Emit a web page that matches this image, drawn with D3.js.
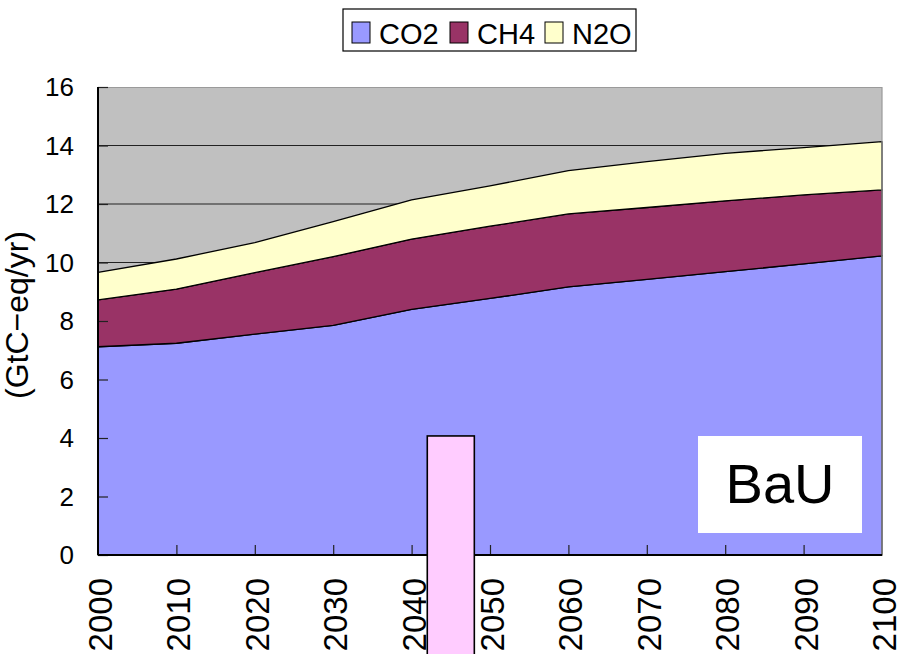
<html>
<head>
<meta charset="UTF-8">
<title>BaU GHG emissions</title>
<script src="https://d3js.org/d3.v7.min.js"></script>
<style>
 body { margin: 0; background: white; }
 text { font-family: "Liberation Sans", Arial, sans-serif; fill: black; }
</style>
</head>
<body>
<svg width="902" height="654"></svg>
<script>
// data (GtC-eq/yr)
var years = [2000, 2010, 2020, 2030, 2040, 2050, 2060, 2070, 2080, 2090, 2100];
var co2 = [7.12, 7.24, 7.55, 7.85, 8.40, 8.77, 9.17, 9.42, 9.69, 9.95, 10.23];
var ch4 = [1.60, 1.85, 2.10, 2.35, 2.40, 2.47, 2.49, 2.46, 2.42, 2.36, 2.25];
var n2o = [0.94, 1.03, 1.03, 1.20, 1.34, 1.38, 1.48, 1.57, 1.62, 1.62, 1.65];
var seriesNames = ["CO2", "CH4", "N2O"];
var seriesColors = ["#9999ff", "#993366", "#ffffcc"];
var yTicks = [0, 2, 4, 6, 8, 10, 12, 14, 16];
var yTitle = "(GtC\u2212eq/yr)";
var boxLabel = "BaU";
// the pink bar standing over the axis
var barYears = [2042, 2048];
var barValue = 4.07;

var svg = d3.select("svg");
var margin = {top: 87, right: 20, bottom: 99, left: 98};
var W = 902, H = 654;
var pw = W - margin.left - margin.right;   // 784
var ph = H - margin.top - margin.bottom;   // 468

var x = d3.scaleLinear().domain([2000, 2100]).range([0, pw]);
var y = d3.scaleLinear().domain([0, 16]).range([ph, 0]);

var rows = years.map(function(yr, i) {
  return {year: yr, CO2: co2[i], CH4: ch4[i], N2O: n2o[i]};
});
var stacked = d3.stack().keys(seriesNames)(rows);

var g = svg.append("g").attr("transform", "translate(" + margin.left + "," + margin.top + ")");

// plot background
g.append("rect").attr("width", pw).attr("height", ph).style("fill", "#c0c0c0");

// gridlines
g.selectAll(".grid").data(yTicks.filter(function(d) { return d > 0 && d < 16; }))
  .enter().append("line")
  .attr("x1", 0).attr("x2", pw)
  .attr("y1", function(d) { return y(d); }).attr("y2", function(d) { return y(d); })
  .style("stroke", "#222").style("stroke-width", 1.2);

var area = d3.area()
  .x(function(d) { return x(d.data.year); })
  .y0(function(d) { return y(d[0]); })
  .y1(function(d) { return y(d[1]); });

g.selectAll(".layer").data(stacked).enter().append("path")
  .attr("d", area)
  .style("fill", function(d, i) { return seriesColors[i]; })
  .style("stroke", "#000").style("stroke-width", 1.3)
  .style("stroke-linejoin", "round");

// plot border (top/right gray)
g.append("path")
  .attr("d", "M0,0.5H" + pw + "V" + ph)
  .style("fill", "none").style("stroke", "#9a9a9a").style("stroke-width", 1.2);

// y axis
var yAxis = d3.axisLeft(y).tickValues(yTicks).tickSize(-10).tickFormat("");
var ya = g.append("g").call(yAxis);
ya.select(".domain").remove();
ya.selectAll(".tick line").style("stroke", "#222").style("stroke-width", 1.2);
g.append("line").attr("x1", 0).attr("x2", 0).attr("y1", 0).attr("y2", ph)
  .style("stroke", "#000").style("stroke-width", 2);

g.selectAll(".ylab").data(yTicks).enter().append("text")
  .attr("x", -24).attr("y", function(d) { return y(d); })
  .attr("dy", "0.36em")
  .attr("text-anchor", "end")
  .style("font-size", "26px")
  .text(function(d) { return d; });

// x axis
var xAxis = d3.axisBottom(x).tickValues(years.slice(1, -1)).tickSize(-10).tickFormat("");
var xa = g.append("g").attr("transform", "translate(0," + ph + ")").call(xAxis);
xa.select(".domain").remove();
xa.selectAll(".tick line").style("stroke", "#222").style("stroke-width", 1.2);
g.append("line").attr("x1", 0).attr("x2", pw).attr("y1", ph).attr("y2", ph)
  .style("stroke", "#000").style("stroke-width", 2);

g.selectAll(".xlab").data(years).enter().append("text")
  .attr("transform", function(d) { return "translate(" + (x(d) + 2.5) + "," + (ph + 23) + ") rotate(-90)"; })
  .attr("dy", "0.35em")
  .attr("text-anchor", "end")
  .style("font-size", "33px")
  .text(function(d) { return d; });

// y title
svg.append("text")
  .attr("transform", "translate(28,315) rotate(-90)")
  .attr("text-anchor", "middle")
  .style("font-size", "32px")
  .text(yTitle);

// BaU label box
g.append("rect")
  .attr("x", 600).attr("y", 349).attr("width", 164).attr("height", 97)
  .style("fill", "white");
g.append("text")
  .attr("x", 682).attr("y", 416)
  .attr("text-anchor", "middle")
  .style("font-size", "56px")
  .text(boxLabel);

// pink bar over the axis
g.append("rect")
  .attr("x", x(barYears[0]))
  .attr("y", y(barValue))
  .attr("width", x(barYears[1]) - x(barYears[0]))
  .attr("height", H - margin.top - y(barValue) + 10)
  .style("fill", "#ffccff")
  .style("stroke", "#000").style("stroke-width", 1.6);

// legend
var leg = svg.append("g").attr("transform", "translate(343,9)");
leg.append("rect").attr("width", 293).attr("height", 42)
  .style("fill", "white").style("stroke", "#000").style("stroke-width", 1.2);
var legX = [9, 107, 202];
seriesNames.forEach(function(name, i) {
  leg.append("rect")
    .attr("x", legX[i]).attr("y", 13).attr("width", 18).attr("height", 21)
    .style("fill", seriesColors[i]).style("stroke", "#000").style("stroke-width", 1);
  leg.append("text")
    .attr("x", legX[i] + 27).attr("y", 35)
    .style("font-size", "29px")
    .text(name);
});
</script>
</body>
</html>
